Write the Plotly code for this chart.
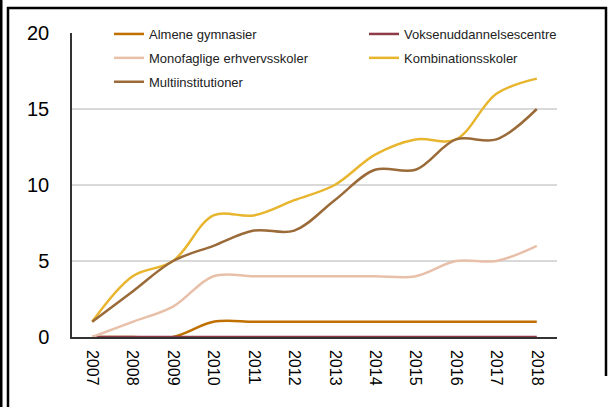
import plotly.graph_objects as go

years = ["2007", "2008", "2009", "2010", "2011", "2012", "2013", "2014", "2015", "2016", "2017", "2018"]
almene = [0, 0, 0, 1, 1, 1, 1, 1, 1, 1, 1, 1]
voksen = [0, 0, 0, 0, 0, 0, 0, 0, 0, 0, 0, 0]
monofaglige = [0, 1, 2, 4, 4, 4, 4, 4, 4, 5, 5, 6]
kombination = [1, 4, 5, 8, 8, 9, 10, 12, 13, 13, 16, 17]
multi = [1, 3, 5, 6, 7, 7, 9, 11, 11, 13, 13, 15]

series = [
    ("Almene gymnasier", almene, "#c07000", "legend"),
    ("Voksenuddannelsescentre", voksen, "#8e3b47", "legend2"),
    ("Monofaglige erhvervsskoler", monofaglige, "#e8c0aa", "legend"),
    ("Kombinationsskoler", kombination, "#e8b52e", "legend2"),
    ("Multiinstitutioner", multi, "#9a6a38", "legend"),
]

W, H = 610, 407
L, R, T, B = 72, 53, 33, 70
pw, ph = W - L - R, H - T - B

fig = go.Figure()
for name, vals, color, leg in series:
    fig.add_trace(go.Scatter(
        x=years, y=vals, name=name, mode="lines", legend=leg, legendgroup=name,
        line=dict(color=color, width=2.5, shape="spline", smoothing=1),
    ))

def px_x(p):
    return (p - L) / pw

def px_y(p):
    return (H - B - p) / ph

shapes = [
    dict(type="line", xref="paper", yref="paper", x0=px_x(1), x1=px_x(1), y0=px_y(-2), y1=px_y(H + 5),
         line=dict(color="black", width=3)),
    dict(type="line", xref="paper", yref="paper", x0=px_x(8), x1=px_x(8), y0=px_y(7), y1=px_y(H + 5),
         line=dict(color="black", width=2.5)),
    dict(type="line", xref="paper", yref="paper", x0=px_x(7), x1=px_x(607), y0=px_y(8), y1=px_y(8),
         line=dict(color="black", width=2.5)),
    dict(type="line", xref="paper", yref="paper", x0=px_x(606), x1=px_x(606), y0=px_y(7), y1=px_y(376),
         line=dict(color="black", width=2.5)),
]

legend_common = dict(
    orientation="v", yanchor="top", xanchor="left",
    bgcolor="rgba(0,0,0,0)", font=dict(size=13, color="#222"),
    tracegroupgap=4,
)

fig.update_layout(
    width=W, height=H,
    margin=dict(l=L, r=R, t=T, b=B),
    paper_bgcolor="white", plot_bgcolor="white",
    font=dict(family="Liberation Sans, Arial, sans-serif", color="black"),
    showlegend=True,
    legend=dict(x=px_x(109), y=px_y(19), **legend_common),
    legend2=dict(x=px_x(364), y=px_y(19), **legend_common),
    xaxis=dict(
        type="category", range=[-0.5, 11.5], showgrid=False,
        showline=True, linecolor="#333", linewidth=1.5, layer="below traces",
        tickangle=90, tickfont=dict(size=16), ticks="", ticklabelstandoff=8,
        fixedrange=True,
    ),
    yaxis=dict(
        range=[0, 20], tickvals=[0, 5, 10, 15, 20],
        showgrid=True, gridcolor="#d9d9d9", gridwidth=1.5,
        showline=True, linecolor="#333", linewidth=1.5, layer="below traces",
        zeroline=False, tickfont=dict(size=20), ticks="", ticklabelstandoff=17,
        fixedrange=True,
    ),
    shapes=shapes,
)

fig.write_html("out.html", config={"displayModeBar": False},
               post_script="document.body.style.margin='0';")
